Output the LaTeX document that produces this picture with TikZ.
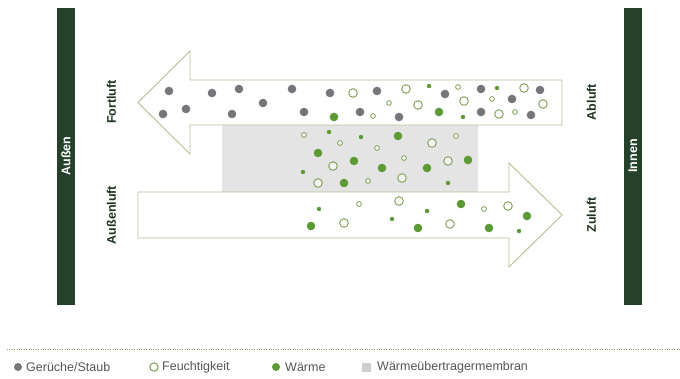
\documentclass[tikz,border=0pt]{standalone}
\usepackage{fontspec}
\setmainfont{Liberation Sans}
\definecolor{bar}{HTML}{26412A}
\definecolor{lbl}{HTML}{1F3320}
\definecolor{arrowline}{HTML}{B7BF92}
\definecolor{membr}{HTML}{E4E4E4}
\definecolor{dotgray}{HTML}{75767A}
\definecolor{dotgreen}{HTML}{5C9A33}
\definecolor{ringgreen}{HTML}{7E9E52}
\definecolor{legtext}{HTML}{555555}
\definecolor{dotline}{HTML}{8FA865}
\tikzset{
  flowarrow/.style={draw=arrowline, line width=0.9pt, fill=white},
  wallbar/.style={fill=bar, draw=none},
  walltext/.style={text=white, font=\bfseries\fontsize{12.5}{14}\selectfont, rotate=90},
  sidelabel/.style={text=lbl, font=\bfseries\fontsize{12.5}{14}\selectfont, rotate=90},
  legendtext/.style={text=legtext, font=\fontsize{12.5}{14}\selectfont, anchor=west, inner sep=0pt},
}
\newcommand{\gdot}[1]{\fill[dotgray] #1 circle (4.3);}
\newcommand{\Gdot}[1]{\fill[dotgreen] #1 circle (4.3);}
\newcommand{\gsmall}[1]{\fill[dotgreen] #1 circle (2.2);}
\newcommand{\ring}[1]{\draw[ringgreen, line width=0.9pt, fill=white, fill opacity=0.6] #1 circle (4.3);}
\newcommand{\rsmall}[1]{\draw[ringgreen, line width=0.8pt, fill=white, fill opacity=0.6] #1 circle (2.4);}
\begin{document}
\begin{tikzpicture}[x=1pt,y=-1pt]
\useasboundingbox (0,0) rectangle (680,378);
\fill[white] (0,0) rectangle (680,378);
% walls
\fill[wallbar] (57,8) rectangle (75,305);
\fill[wallbar] (624,8) rectangle (642,305);
\node[walltext] (aussen) at (66,156) {Außen};
\node[walltext] (innen) at (633,156) {Innen};
% membrane
\fill[membr] (222,125) rectangle (478,192);
% arrows
\draw[flowarrow] (138,102.5) -- (190,51) -- (190,80) -- (562,80) -- (562,125) -- (190,125) -- (190,154) -- cycle;
\draw[flowarrow] (138,192) -- (509,192) -- (509,163) -- (562,215) -- (509,267) -- (509,238) -- (138,238) -- cycle;
% labels
\node[sidelabel] (fortluft) at (111.5,102) {Fortluft};
\node[sidelabel] (aussenluft) at (111.5,215) {Außenluft};
\node[sidelabel] (abluft) at (591.5,102) {Abluft};
\node[sidelabel] (zuluft) at (591.5,215) {Zuluft};
% top arrow particles
\foreach \p in {(169,91),(163,114),(186,109),(212,93),(239,89),(232,114),(263,103),(292,89),(304,112),(330,93),(377,91),(360,112),(399,117),(445,94),(481,89),(540,90),(512,99),(481,112),(531,115)} {\gdot{\p}}
\foreach \p in {(334,117),(439,112)} {\Gdot{\p}}
\foreach \p in {(429,86),(497,88),(463,117)} {\gsmall{\p}}
\foreach \p in {(353,93),(406,89),(418,105),(524,88),(464,101),(499,114),(543,104)} {\ring{\p}}
\foreach \p in {(389,103),(373,116),(458,87),(492,99),(515,112)} {\rsmall{\p}}
% membrane particles
\foreach \p in {(318,153),(354,161),(382,168),(344,183),(398,136),(468,160),(427,168)} {\Gdot{\p}}
\foreach \p in {(329,132),(361,137),(303,172),(448,183)} {\gsmall{\p}}
\foreach \p in {(333,166),(318,183),(432,143),(448,161),(402,178)} {\ring{\p}}
\foreach \p in {(304,135),(340,143),(377,148),(368,181),(456,136),(404,158)} {\rsmall{\p}}
% bottom arrow particles
\foreach \p in {(311,226),(418,228),(461,204),(527,216),(489,228)} {\Gdot{\p}}
\foreach \p in {(319,209),(392,219),(427,211),(519,231)} {\gsmall{\p}}
\foreach \p in {(344,223),(399,201),(508,206),(450,224)} {\ring{\p}}
\foreach \p in {(359,204),(484,209)} {\rsmall{\p}}
% legend
\draw[dotline, line width=1pt, dash pattern=on 0.8pt off 1.6pt] (7,349) -- (680,349);
\fill[dotgray] (18,367) circle (4);
\node[legendtext] (l1) at (26,367) {Gerüche/Staub};
\draw[ringgreen, line width=1pt] (154,367) circle (4.2);
\node[legendtext] (l2) at (162,367) {Feuchtigkeit};
\fill[dotgreen] (276,367) circle (4);
\node[legendtext] (l3) at (285,367) {Wärme};
\fill[membr!90!black] (361.5,362.5) rectangle (370.5,371.5);
\node[legendtext] (l4) at (377,367) {Wärmeübertragermembran};
\end{tikzpicture}
\end{document}
